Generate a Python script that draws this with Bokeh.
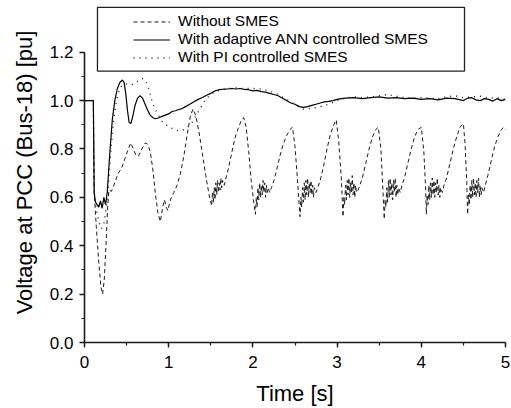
from bokeh.plotting import figure
from bokeh.models import (Legend, LegendItem, BoxAnnotation, SingleIntervalTicker,
                          PrintfTickFormatter, Range1d)
from bokeh.embed import file_html
from bokeh.resources import INLINE

# ---- Bus-18 voltage (pu) versus time (s) ----
t_no = [0.00, 0.105, 0.115, 0.14, 0.17, 0.195, 0.215, 0.235, 0.255, 0.275, 0.29, 0.32, 0.36, 0.40, 0.44,
        0.48, 0.52, 0.55, 0.58, 0.61, 0.64, 0.68, 0.72, 0.75, 0.78, 0.81, 0.84, 0.87, 0.90, 0.93, 0.95,
        0.97, 0.99, 1.02, 1.06, 1.10, 1.14, 1.18, 1.22, 1.26, 1.29,
        1.32, 1.36, 1.40, 1.44, 1.48, 1.51, 1.52, 1.53, 1.54, 1.55, 1.56, 1.57, 1.58, 1.59, 1.60, 1.61,
        1.62, 1.63, 1.64, 1.66, 1.68, 1.71, 1.74, 1.77, 1.80, 1.83, 1.86, 1.89,
        1.92, 1.95, 1.98, 2.01, 2.03, 2.04, 2.05, 2.06, 2.07, 2.08, 2.09, 2.10, 2.11, 2.12, 2.13, 2.14,
        2.15, 2.16, 2.17, 2.18, 2.20, 2.22, 2.25, 2.28, 2.32, 2.36, 2.40, 2.44, 2.47,
        2.50, 2.53, 2.56, 2.57, 2.58, 2.59, 2.60, 2.61, 2.62, 2.63, 2.64, 2.65, 2.66, 2.67, 2.68, 2.69,
        2.70, 2.71, 2.72, 2.73, 2.75, 2.77, 2.80, 2.84, 2.88, 2.92, 2.96, 2.99,
        3.02, 3.05, 3.07, 3.08, 3.09, 3.10, 3.11, 3.12, 3.13, 3.14, 3.15, 3.16, 3.17, 3.18, 3.19, 3.20,
        3.21, 3.22, 3.23, 3.25, 3.27, 3.30, 3.34, 3.38, 3.42, 3.46, 3.49,
        3.52, 3.54, 3.56, 3.57, 3.58, 3.59, 3.60, 3.61, 3.62, 3.63, 3.64, 3.65, 3.66, 3.67, 3.68, 3.69,
        3.70, 3.71, 3.72, 3.73, 3.75, 3.77, 3.80, 3.84, 3.88, 3.92, 3.96, 4.00,
        4.03, 4.05, 4.06, 4.07, 4.08, 4.09, 4.10, 4.11, 4.12, 4.13, 4.14, 4.15, 4.16, 4.17, 4.18, 4.19,
        4.20, 4.21, 4.22, 4.23, 4.25, 4.27, 4.30, 4.34, 4.38, 4.42, 4.46, 4.50,
        4.52, 4.54, 4.55, 4.56, 4.57, 4.58, 4.59, 4.60, 4.61, 4.62, 4.63, 4.64, 4.65, 4.66, 4.67, 4.68,
        4.69, 4.70, 4.71, 4.72, 4.74, 4.76, 4.79, 4.83, 4.87, 4.91, 4.95, 4.98, 5.00]
v_no = [1.00, 1.00, 0.62, 0.48, 0.33, 0.23, 0.20, 0.26, 0.40, 0.56, 0.63, 0.625, 0.66, 0.70, 0.72,
        0.76, 0.80, 0.825, 0.80, 0.775, 0.77, 0.80, 0.825, 0.82, 0.79, 0.72, 0.62, 0.54, 0.50, 0.56, 0.59,
        0.56, 0.545, 0.59, 0.62, 0.65, 0.70, 0.77, 0.86, 0.94, 0.965,
        0.94, 0.87, 0.78, 0.69, 0.61, 0.565, 0.62, 0.58, 0.64, 0.59, 0.66, 0.61, 0.67, 0.62, 0.66, 0.63,
        0.68, 0.64, 0.67, 0.65, 0.68, 0.72, 0.77, 0.82, 0.86, 0.89, 0.915, 0.93,
        0.89, 0.79, 0.67, 0.58, 0.53, 0.60, 0.56, 0.64, 0.59, 0.66, 0.60, 0.65, 0.61, 0.67, 0.62, 0.66,
        0.60, 0.65, 0.62, 0.64, 0.62, 0.64, 0.67, 0.71, 0.77, 0.82, 0.855, 0.88, 0.89,
        0.81, 0.67, 0.52, 0.60, 0.56, 0.64, 0.58, 0.66, 0.59, 0.67, 0.61, 0.68, 0.60, 0.66, 0.62, 0.67,
        0.61, 0.65, 0.60, 0.64, 0.62, 0.64, 0.67, 0.73, 0.80, 0.86, 0.90, 0.92,
        0.83, 0.68, 0.52, 0.60, 0.57, 0.65, 0.59, 0.67, 0.61, 0.68, 0.60, 0.66, 0.62, 0.69, 0.61, 0.66,
        0.60, 0.65, 0.62, 0.63, 0.65, 0.68, 0.74, 0.80, 0.85, 0.88, 0.89,
        0.80, 0.66, 0.51, 0.59, 0.56, 0.64, 0.58, 0.67, 0.60, 0.68, 0.61, 0.66, 0.59, 0.67, 0.62, 0.68,
        0.60, 0.65, 0.61, 0.64, 0.62, 0.65, 0.68, 0.74, 0.80, 0.85, 0.88, 0.89,
        0.79, 0.65, 0.53, 0.61, 0.57, 0.65, 0.59, 0.66, 0.60, 0.68, 0.61, 0.67, 0.60, 0.66, 0.62, 0.68,
        0.61, 0.65, 0.60, 0.64, 0.62, 0.65, 0.68, 0.74, 0.80, 0.85, 0.89, 0.905,
        0.82, 0.66, 0.53, 0.61, 0.57, 0.65, 0.59, 0.67, 0.60, 0.68, 0.61, 0.66, 0.60, 0.67, 0.62, 0.68,
        0.60, 0.65, 0.61, 0.64, 0.62, 0.65, 0.69, 0.75, 0.81, 0.85, 0.88, 0.89, 0.88]

t_ann = [0.00, 0.105, 0.115, 0.13, 0.15, 0.17, 0.19, 0.21, 0.23, 0.25, 0.27, 0.30, 0.33, 0.36, 0.39,
         0.42, 0.45, 0.47, 0.49, 0.51, 0.53, 0.55, 0.57, 0.60, 0.63, 0.66, 0.69, 0.72, 0.75, 0.78, 0.81,
         0.84, 0.88, 0.92, 0.96, 1.00, 1.04, 1.08, 1.12, 1.16, 1.20, 1.25, 1.30, 1.35, 1.40, 1.45, 1.50,
         1.55, 1.60, 1.65, 1.70, 1.75, 1.80, 1.85, 1.90, 1.95, 2.00, 2.05, 2.10, 2.15, 2.20, 2.25, 2.30,
         2.35, 2.40, 2.45, 2.50, 2.55, 2.60, 2.65, 2.70, 2.75, 2.80, 2.85, 2.90, 2.95, 3.00, 3.05, 3.10,
         3.20, 3.30, 3.40, 3.50, 3.60, 3.70, 3.80, 3.90, 4.00, 4.10, 4.20, 4.30, 4.40, 4.50, 4.55, 4.60,
         4.65, 4.70, 4.75, 4.80, 4.85, 4.90, 4.95, 5.00]
v_ann = [1.00, 1.00, 0.62, 0.58, 0.57, 0.56, 0.585, 0.555, 0.60, 0.57, 0.62, 0.78, 0.92, 1.00, 1.05,
         1.075, 1.085, 1.075, 1.03, 0.96, 0.91, 0.905, 0.93, 0.98, 1.01, 1.02, 1.01, 0.985, 0.96, 0.94, 0.93,
         0.925, 0.928, 0.935, 0.94, 0.945, 0.955, 0.958, 0.963, 0.967, 0.975, 0.985, 0.995, 1.005, 1.013, 1.022, 1.03,
         1.04, 1.045, 1.047, 1.048, 1.05, 1.048, 1.05, 1.046, 1.045, 1.04, 1.042, 1.037, 1.035, 1.03, 1.025, 1.02,
         1.01, 1.00, 0.99, 0.985, 0.975, 0.972, 0.975, 0.98, 0.985, 0.99, 0.995, 0.997, 1.00, 1.005, 1.008, 1.01,
         1.012, 1.008, 1.012, 1.015, 1.01, 1.012, 1.008, 1.01, 1.005, 1.008, 1.003, 1.01, 1.008, 1.00, 1.01, 1.012,
         1.003, 1.00, 1.008, 1.005, 0.998, 1.008, 1.00, 1.005]

t_pi = [0.00, 0.105, 0.115, 0.14, 0.17, 0.20, 0.23, 0.26, 0.28, 0.31, 0.34, 0.37, 0.40, 0.44, 0.48,
        0.52, 0.56, 0.60, 0.64, 0.68, 0.71, 0.74, 0.77, 0.80, 0.83, 0.87, 0.92, 0.97, 1.02, 1.07, 1.12,
        1.17, 1.22, 1.27, 1.32, 1.37, 1.42, 1.47, 1.52, 1.58, 1.65, 1.72, 1.80, 1.90, 2.00, 2.10, 2.20,
        2.30, 2.40, 2.50, 2.60, 2.70, 2.80, 2.90, 3.00, 3.10, 3.20, 3.30, 3.40, 3.50, 3.60, 3.70, 3.80,
        3.90, 4.00, 4.10, 4.20, 4.30, 4.40, 4.50, 4.60, 4.70, 4.80, 4.90, 5.00]
v_pi = [1.00, 1.00, 0.62, 0.55, 0.50, 0.47, 0.49, 0.56, 0.62, 0.78, 0.90, 0.98, 1.03, 1.06, 1.07,
        1.068, 1.066, 1.072, 1.082, 1.092, 1.088, 1.07, 1.04, 1.00, 0.97, 0.945, 0.915, 0.90, 0.888, 0.88, 0.875,
        0.878, 0.888, 0.905, 0.935, 0.965, 0.995, 1.015, 1.03, 1.04, 1.045, 1.05, 1.052, 1.05, 1.05, 1.048, 1.04,
        1.025, 1.005, 0.985, 0.965, 0.968, 0.975, 0.985, 1.00, 1.01, 1.015, 1.012, 1.015, 1.02, 1.025, 1.018, 1.012,
        1.01, 1.012, 1.01, 1.008, 1.015, 1.02, 1.012, 1.015, 1.018, 1.01, 1.012, 1.005]

series_labels = ["Without SMES", "With adaptive ANN controlled SMES", "With PI controlled SMES"]

FONT = "Liberation Sans"

p = figure(width=511, height=408, output_backend="svg", toolbar_location=None,
           x_range=Range1d(0, 5), y_range=Range1d(0, 1.4055),
           min_border_left=84, min_border_right=6, min_border_top=2, min_border_bottom=64,
           background_fill_color="white", border_fill_color="white")
p.outline_line_color = None
p.xgrid.visible = False
p.ygrid.visible = False

r_no = p.line(t_no, v_no, line_color="#1a1a1a", line_width=1, line_dash="4 3")
r_ann = p.line(t_ann, v_ann, line_color="black", line_width=1.2)
r_pi = p.line(t_pi, v_pi, line_color="#1a1a1a", line_width=1.4, line_dash="1 5")

# axes
xa = p.xaxis[0]
xa.ticker = SingleIntervalTicker(interval=1, num_minor_ticks=2)
xa.axis_label = "Time [s]"
ya = p.yaxis[0]
ya.ticker = SingleIntervalTicker(interval=0.2, num_minor_ticks=2)
ya.formatter = PrintfTickFormatter(format="%.1f")
ya.bounds = (0, 1.2001)
ya.axis_label = "Voltage at PCC (Bus-18) [pu]"
for ax in (xa, ya):
    ax.axis_line_width = 1.6
    ax.axis_line_color = "#1a1a1a"
    ax.major_tick_line_width = 1.4
    ax.minor_tick_line_width = 1.2
    ax.major_tick_line_color = "#1a1a1a"
    ax.minor_tick_line_color = "#1a1a1a"
    ax.major_tick_out = 5
    ax.major_tick_in = 0
    ax.minor_tick_out = 3
    ax.minor_tick_in = 0
    ax.major_label_text_font = FONT
    ax.major_label_text_font_size = "17px"
    ax.major_label_text_color = "black"
    ax.axis_label_text_font = FONT
    ax.axis_label_text_font_size = "22px"
    ax.axis_label_text_font_style = "normal"
    ax.axis_label_text_color = "black"
xa.major_label_standoff = 8
xa.axis_label_standoff = 10
ya.major_label_standoff = 6
ya.axis_label_standoff = 10

# legend frame
p.add_layout(BoxAnnotation(left=0.154, right=4.513, bottom=1.122, top=1.385,
                           fill_color="white", fill_alpha=1.0,
                           line_color="#222222", line_width=1.3, line_alpha=1.0))

legend = Legend(items=[LegendItem(label=series_labels[0], renderers=[r_no]),
                       LegendItem(label=series_labels[1], renderers=[r_ann]),
                       LegendItem(label=series_labels[2], renderers=[r_pi])],
                location=(43, 270), padding=6, spacing=0,
                glyph_width=37, glyph_height=17, label_height=17, label_standoff=8,
                label_text_font=FONT, label_text_font_size="15.5px", label_text_color="black",
                border_line_alpha=0, background_fill_alpha=0)
p.add_layout(legend)

open("out.html", "w").write(file_html(p, INLINE))
